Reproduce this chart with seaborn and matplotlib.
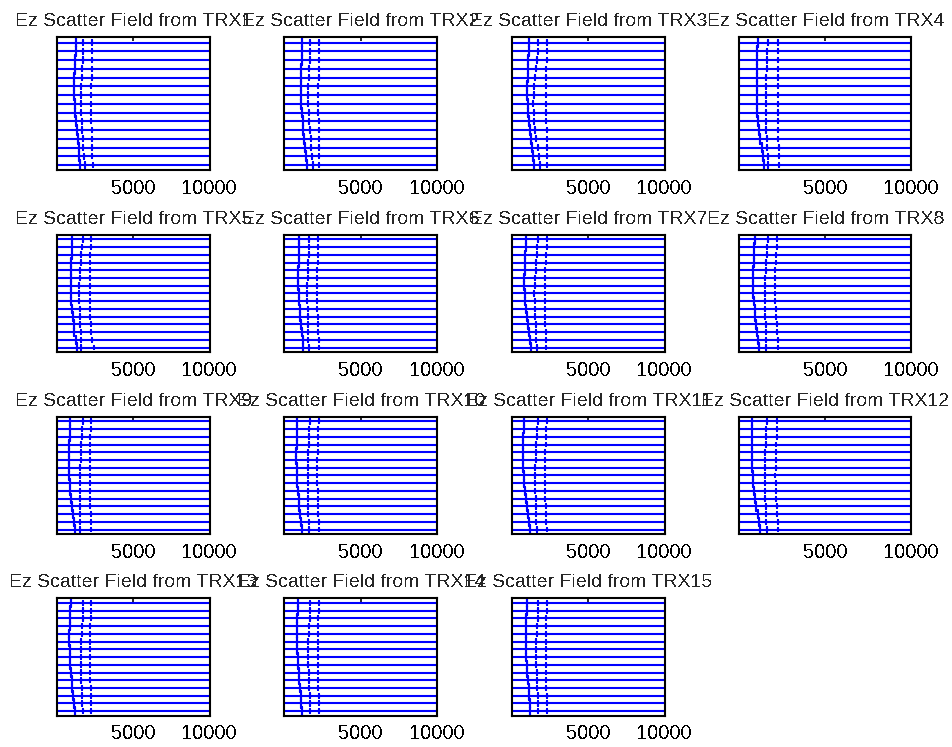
import matplotlib
matplotlib.use("Agg")
import matplotlib.pyplot as plt
import pandas as pd
import seaborn as sns

# Arrival times (time samples) of the three wavefronts seen at the 15 receivers,
# one row per transmitter TRX1..TRX15, receivers listed top to bottom.
direct_wave = [
    [1250, 1230, 1200, 1180, 1160, 1160, 1160, 1180, 1220, 1260, 1310, 1370, 1430, 1480, 1530],
    [1180, 1160, 1140, 1120, 1100, 1100, 1100, 1120, 1160, 1200, 1250, 1310, 1380, 1440, 1510],
    [1160, 1120, 1090, 1060, 1040, 1030, 1030, 1040, 1080, 1130, 1190, 1260, 1330, 1410, 1490],
    [1070, 1050, 1030, 1020, 1010, 1010, 1010, 1020, 1050, 1100, 1160, 1230, 1300, 1380, 1460],
    [1030, 1000, 970, 950, 930, 920, 920, 920, 950, 990, 1040, 1100, 1160, 1240, 1310],
    [985, 965, 945, 930, 920, 920, 920, 930, 960, 1000, 1050, 1100, 1150, 1200, 1250],
    [940, 910, 880, 860, 840, 830, 830, 840, 870, 920, 980, 1040, 1110, 1180, 1250],
    [910, 880, 860, 840, 820, 815, 815, 820, 850, 890, 940, 990, 1050, 1100, 1160],
    [880, 860, 840, 820, 810, 810, 810, 820, 850, 900, 960, 1020, 1080, 1140, 1200],
    [850, 830, 810, 800, 790, 790, 800, 820, 850, 890, 940, 990, 1050, 1110, 1180],
    [800, 780, 770, 760, 750, 750, 760, 780, 820, 870, 930, 990, 1060, 1130, 1200],
    [750, 740, 730, 720, 720, 730, 750, 780, 820, 870, 930, 990, 1060, 1130, 1200],
    [920, 890, 860, 840, 830, 830, 840, 860, 890, 930, 980, 1030, 1090, 1140, 1200],
    [900, 880, 860, 850, 840, 840, 850, 870, 900, 940, 980, 1020, 1070, 1110, 1150],
    [1000, 980, 960, 940, 930, 930, 940, 960, 990, 1020, 1060, 1100, 1130, 1170, 1200],
]

first_echo = [
    [1750, 1730, 1700, 1670, 1640, 1620, 1600, 1600, 1610, 1630, 1660, 1700, 1740, 1790, 1830],
    [1710, 1690, 1660, 1630, 1600, 1580, 1570, 1580, 1600, 1630, 1680, 1720, 1770, 1810, 1860],
    [1750, 1700, 1650, 1600, 1550, 1480, 1440, 1420, 1440, 1480, 1550, 1620, 1700, 1760, 1820],
    [1650, 1630, 1610, 1590, 1560, 1540, 1530, 1530, 1540, 1560, 1580, 1600, 1620, 1640, 1650],
    [1690, 1650, 1610, 1570, 1530, 1500, 1480, 1470, 1480, 1500, 1520, 1540, 1560, 1570, 1580],
    [1640, 1620, 1590, 1570, 1540, 1520, 1510, 1510, 1510, 1520, 1530, 1540, 1560, 1580, 1600],
    [1710, 1680, 1640, 1600, 1560, 1520, 1500, 1490, 1500, 1520, 1550, 1580, 1600, 1620, 1640],
    [1650, 1630, 1600, 1570, 1540, 1510, 1500, 1490, 1500, 1510, 1520, 1530, 1540, 1550, 1550],
    [1710, 1680, 1650, 1620, 1590, 1560, 1540, 1530, 1530, 1530, 1530, 1530, 1530, 1530, 1530],
    [1650, 1630, 1610, 1590, 1570, 1550, 1540, 1530, 1530, 1540, 1550, 1560, 1580, 1600, 1620],
    [1700, 1670, 1640, 1610, 1580, 1560, 1540, 1530, 1530, 1540, 1560, 1580, 1600, 1620, 1640],
    [1600, 1580, 1560, 1540, 1520, 1500, 1490, 1490, 1500, 1510, 1520, 1540, 1560, 1580, 1600],
    [1750, 1720, 1690, 1660, 1630, 1610, 1590, 1580, 1580, 1590, 1610, 1630, 1650, 1670, 1690],
    [1700, 1680, 1650, 1620, 1600, 1580, 1570, 1570, 1580, 1600, 1620, 1640, 1660, 1680, 1700],
    [1750, 1720, 1690, 1660, 1640, 1620, 1600, 1600, 1610, 1630, 1650, 1670, 1700, 1720, 1750],
]

second_echo = [
    [2320, 2310, 2300, 2290, 2280, 2270, 2260, 2260, 2260, 2270, 2280, 2290, 2300, 2320, 2340],
    [2280, 2270, 2260, 2250, 2240, 2230, 2230, 2230, 2230, 2240, 2250, 2260, 2270, 2280, 2280],
    [2300, 2290, 2280, 2270, 2260, 2250, 2250, 2250, 2260, 2270, 2280, 2290, 2300, 2300, 2300],
    [2270, 2270, 2260, 2260, 2250, 2250, 2250, 2250, 2260, 2260, 2270, 2270, 2280, 2280, 2290],
    [2230, 2220, 2200, 2190, 2170, 2160, 2150, 2150, 2160, 2180, 2200, 2230, 2270, 2330, 2410],
    [2230, 2210, 2190, 2170, 2150, 2130, 2120, 2120, 2130, 2150, 2170, 2200, 2230, 2260, 2300],
    [2300, 2280, 2250, 2220, 2200, 2170, 2160, 2150, 2150, 2160, 2180, 2200, 2220, 2240, 2260],
    [2210, 2180, 2150, 2120, 2100, 2090, 2080, 2080, 2090, 2110, 2140, 2170, 2200, 2240, 2270],
    [2230, 2210, 2190, 2180, 2160, 2150, 2150, 2150, 2160, 2170, 2180, 2200, 2220, 2240, 2260],
    [2250, 2230, 2210, 2190, 2170, 2160, 2150, 2150, 2160, 2170, 2190, 2210, 2230, 2250, 2270],
    [2280, 2260, 2240, 2220, 2200, 2180, 2170, 2160, 2170, 2180, 2200, 2220, 2240, 2260, 2280],
    [2220, 2200, 2180, 2160, 2140, 2120, 2110, 2100, 2110, 2130, 2150, 2170, 2200, 2230, 2260],
    [2230, 2220, 2210, 2200, 2190, 2180, 2170, 2170, 2180, 2190, 2200, 2210, 2220, 2230, 2240],
    [2250, 2240, 2230, 2220, 2210, 2200, 2190, 2190, 2200, 2210, 2220, 2230, 2240, 2250, 2260],
    [2300, 2280, 2260, 2240, 2230, 2220, 2210, 2210, 2220, 2230, 2250, 2270, 2290, 2310, 2330],
]

# Peak amplitude of each wavefront, in units of trace spacing
wave_amplitude = [0.55, 0.30, 0.25]

transmitters = [f"TRX{k}" for k in range(1, 16)]
time_ticks = [5000, 10000]
time_span = [0, 10000]
n_receivers = 15

sns.set_style("white")
plt.rcParams["font.family"] = ["Liberation Sans", "DejaVu Sans"]
plt.rcParams["text.antialiased"] = False

fig = plt.figure(figsize=(9.52, 7.47), dpi=100)
W, H = 952.0, 747.0

col_left = [56.7, 284.3, 511.7, 739.3]
col_width = [153.0, 153.0, 153.0, 172.0]
row_top = [37.3, 234.7, 416.7, 598.3]
row_height = [133.0, 117.5, 117.5, 117.5]


def trace_table(p):
    rows = []
    for r in range(n_receivers):
        base = n_receivers - r
        events = sorted(
            [(direct_wave[p][r], wave_amplitude[0]),
             (first_echo[p][r], wave_amplitude[1]),
             (second_echo[p][r], wave_amplitude[2])]
        )
        rows.append((r, time_span[0], base))
        for t, a in events:
            rows += [(r, t, base), (r, t, base + a), (r, t, base - a), (r, t, base)]
        rows.append((r, time_span[1], base))
    return pd.DataFrame(rows, columns=["receiver", "t", "field"])


for p, name in enumerate(transmitters):
    row, col = divmod(p, 4)
    rect = [col_left[col] / W,
            1 - (row_top[row] + row_height[row]) / H,
            col_width[col] / W,
            row_height[row] / H]
    ax = fig.add_axes(rect)
    sns.lineplot(data=trace_table(p), x="t", y="field", units="receiver",
                 estimator=None, sort=False, color="#0000ff", linewidth=1.5,
                 antialiased=True, legend=False, ax=ax)
    ax.set_xlim(*time_span)
    ax.set_ylim(0.4, n_receivers + 0.6)
    ax.set_xticks(time_ticks)
    ax.set_xticklabels([str(v) for v in time_ticks])
    ax.set_yticks([])
    ax.set_xlabel("")
    ax.set_ylabel("")
    ax.tick_params(axis="x", direction="in", length=3, width=1.2, top=True,
                   labelsize=14.5, pad=6, colors="black")
    for s in ax.spines.values():
        s.set_visible(True)
        s.set_color("black")
        s.set_linewidth(1.5)
    ax.set_title(f"Ez Scatter Field from {name}", fontsize=14, pad=8)

fig.savefig("out.png", dpi=100)
